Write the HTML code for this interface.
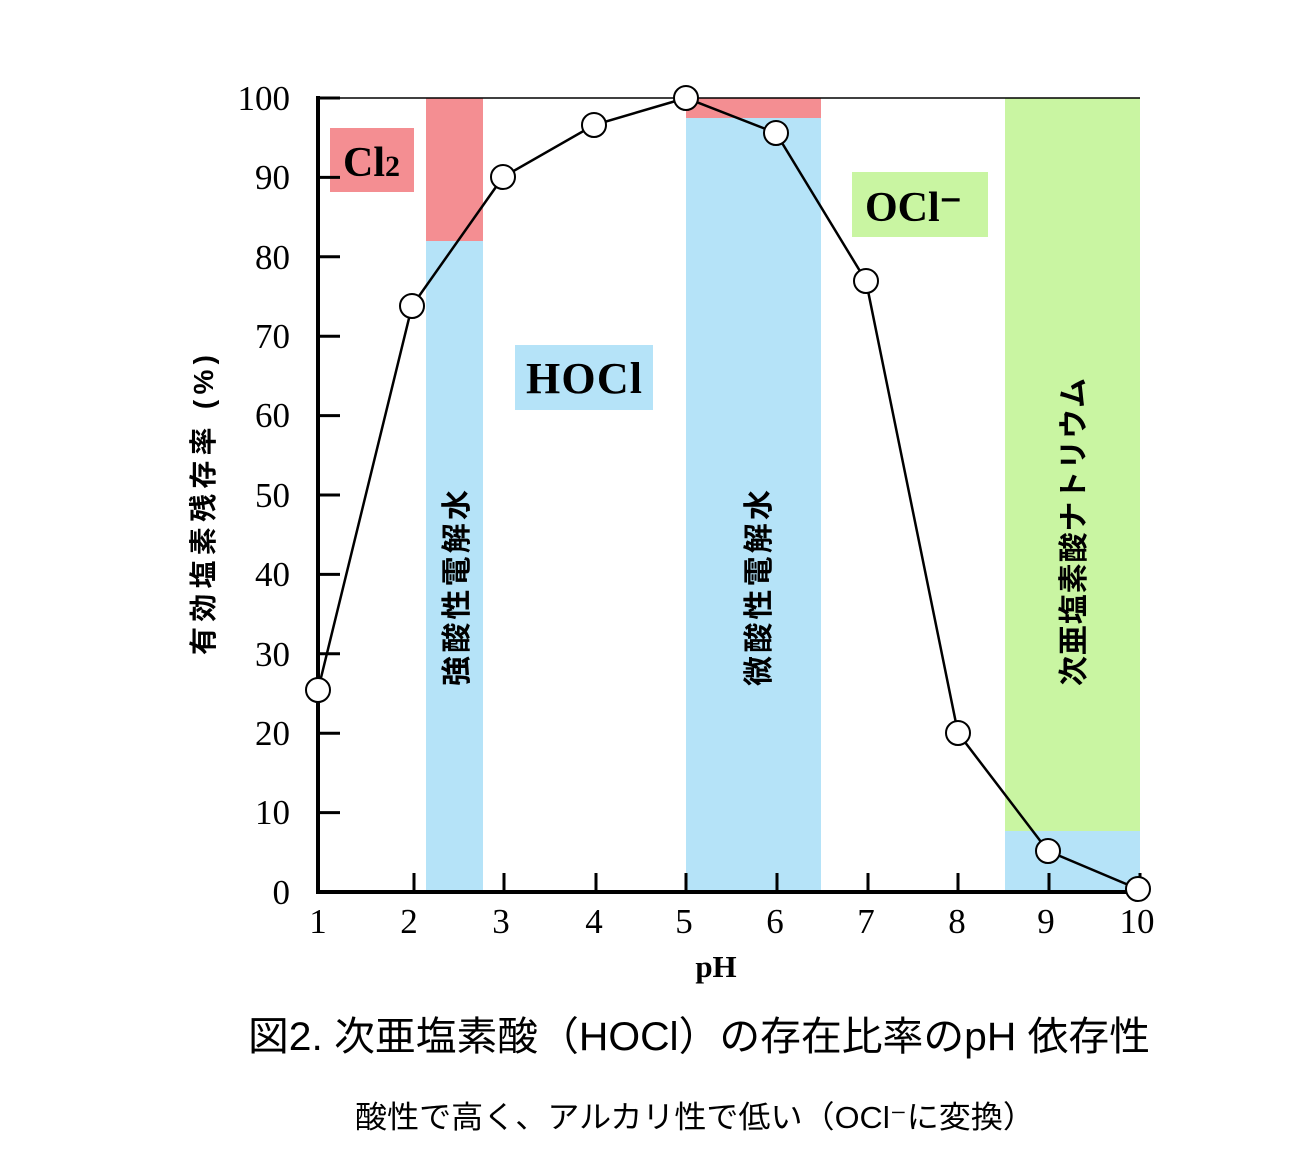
<!DOCTYPE html>
<html><head><meta charset="utf-8"><style>
html,body{margin:0;padding:0;background:#fff;}
svg{display:block;}
.t{font-family:"Liberation Serif",serif;fill:#000;}
.j{font-family:"Liberation Sans","Noto Sans CJK JP",sans-serif;fill:#000;}
</style></head><body>
<svg width="1310" height="1170" viewBox="0 0 1310 1170" xmlns="http://www.w3.org/2000/svg">
<rect x="426" y="98" width="57" height="143" fill="#f48e92"/>
<rect x="426" y="241" width="57" height="651" fill="#b5e3f8"/>
<rect x="686" y="98" width="135" height="20" fill="#f48e92"/>
<rect x="686" y="118" width="135" height="774" fill="#b5e3f8"/>
<rect x="1005" y="98" width="135" height="733" fill="#c9f5a2"/>
<rect x="1005" y="831" width="135" height="61" fill="#b5e3f8"/>
<rect x="330" y="128" width="84" height="64" fill="#f48e92"/>
<text class="t" x="343" y="176" font-size="42" font-weight="bold">Cl<tspan font-size="30">2</tspan></text>
<rect x="515" y="345" width="138" height="65" fill="#b5e3f8"/>
<text class="t" x="526" y="393" font-size="44" font-weight="bold" textLength="116">HOCl</text>
<rect x="852" y="172" width="136" height="65" fill="#c9f5a2"/>
<text class="t" x="865" y="221" font-size="42" font-weight="bold">OCl⁻</text>
<text class="j" transform="translate(467,588) rotate(-90)" font-size="30" font-weight="bold" text-anchor="middle" textLength="196">強酸性電解水</text>
<text class="j" transform="translate(769,588) rotate(-90)" font-size="30" font-weight="bold" text-anchor="middle" textLength="196">微酸性電解水</text>
<text class="j" transform="translate(1084,532) rotate(-90)" font-size="30" font-weight="bold" text-anchor="middle" textLength="308">次亜塩素酸ナトリウム</text>
<text class="j" transform="translate(213,505) rotate(-90)" font-size="28" font-weight="bold" text-anchor="middle" textLength="300">有効塩素残存率 (%)</text>
<line x1="318" y1="98" x2="1140" y2="98" stroke="#000" stroke-width="1.5"/>
<line x1="318" y1="96" x2="318" y2="894" stroke="#000" stroke-width="4"/>
<line x1="316" y1="892" x2="1142" y2="892" stroke="#000" stroke-width="4"/>
<g stroke="#000" stroke-width="3">
<line x1="318" y1="98" x2="340" y2="98"/><line x1="318" y1="177.4" x2="340" y2="177.4"/>
<line x1="318" y1="256.8" x2="340" y2="256.8"/><line x1="318" y1="336.2" x2="340" y2="336.2"/>
<line x1="318" y1="415.6" x2="340" y2="415.6"/><line x1="318" y1="495" x2="340" y2="495"/>
<line x1="318" y1="574.4" x2="340" y2="574.4"/><line x1="318" y1="653.8" x2="340" y2="653.8"/>
<line x1="318" y1="733.2" x2="340" y2="733.2"/><line x1="318" y1="812.6" x2="340" y2="812.6"/>
<line x1="414" y1="892" x2="414" y2="873"/><line x1="504" y1="892" x2="504" y2="873"/>
<line x1="596" y1="892" x2="596" y2="873"/><line x1="686" y1="892" x2="686" y2="873"/>
<line x1="777" y1="892" x2="777" y2="873"/><line x1="868" y1="892" x2="868" y2="873"/>
<line x1="958" y1="892" x2="958" y2="873"/><line x1="1049" y1="892" x2="1049" y2="873"/>
<line x1="1140" y1="892" x2="1140" y2="873"/>
</g>
<g class="t" font-size="35" text-anchor="end">
<text x="290" y="110">100</text><text x="290" y="189">90</text><text x="290" y="269">80</text>
<text x="290" y="348">70</text><text x="290" y="427">60</text><text x="290" y="507">50</text>
<text x="290" y="586">40</text><text x="290" y="666">30</text><text x="290" y="745">20</text>
<text x="290" y="824">10</text><text x="290" y="904">0</text>
</g>
<g class="t" font-size="35" text-anchor="middle">
<text x="318" y="933">1</text><text x="409" y="933">2</text><text x="501" y="933">3</text>
<text x="594" y="933">4</text><text x="684" y="933">5</text><text x="775" y="933">6</text>
<text x="866" y="933">7</text><text x="957" y="933">8</text><text x="1046" y="933">9</text>
<text x="1137" y="933">10</text>
</g>
<text class="t" x="716" y="977" font-size="31" font-weight="bold" text-anchor="middle">pH</text>
<polyline fill="none" stroke="#000" stroke-width="2.5" points="318,690 412,306 503,177 594,125 686,98 776,133 866,281 958,733 1048,851 1138,889"/>
<g fill="#fff" stroke="#000" stroke-width="2">
<circle cx="318" cy="690" r="12"/><circle cx="412" cy="306" r="12"/><circle cx="503" cy="177" r="12"/>
<circle cx="594" cy="125" r="12"/><circle cx="686" cy="98" r="12"/><circle cx="776" cy="133" r="12"/>
<circle cx="866" cy="281" r="12"/><circle cx="958" cy="733" r="12"/><circle cx="1048" cy="851" r="12"/>
<circle cx="1138" cy="889" r="12"/>
</g>
<text class="j" x="248" y="1050" font-size="40" textLength="902" lengthAdjust="spacingAndGlyphs">図2. 次亜塩素酸（HOCl）の存在比率のpH 依存性</text>
<text class="j" x="355" y="1128" font-size="31" textLength="680" lengthAdjust="spacingAndGlyphs">酸性で高く、アルカリ性で低い（OCl⁻に変換）</text>
</svg>
</body></html>
